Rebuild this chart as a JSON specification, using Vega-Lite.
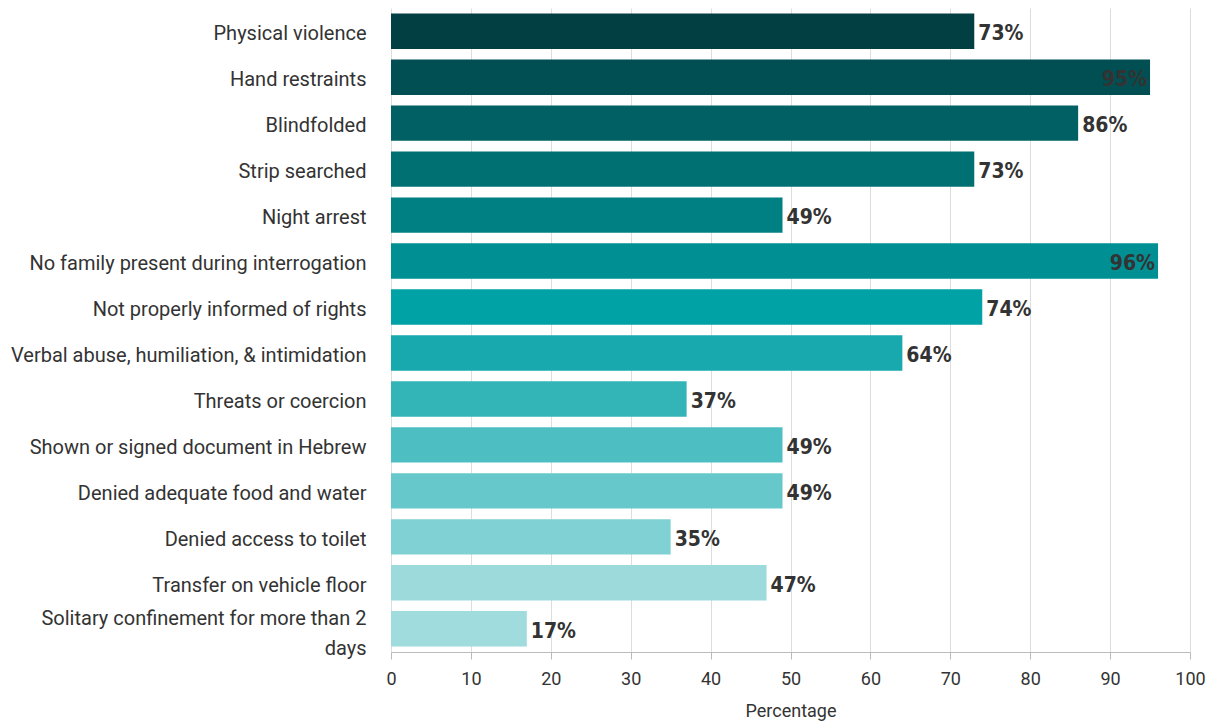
{
  "$schema": "https://vega.github.io/schema/vega-lite/v6.json",
  "autosize": {"type": "none"},
  "width": 799,
  "height": 644,
  "padding": {"left": 391, "top": 8, "right": 20, "bottom": 69},
  "background": "white",
  "view": {"stroke": null},
  "data": {
    "values": [
      {"item": "Physical violence", "value": 73},
      {"item": "Hand restraints", "value": 95},
      {"item": "Blindfolded", "value": 86},
      {"item": "Strip searched", "value": 73},
      {"item": "Night arrest", "value": 49},
      {"item": "No family present during interrogation", "value": 96},
      {"item": "Not properly informed of rights", "value": 74},
      {"item": "Verbal abuse, humiliation, & intimidation", "value": 64},
      {"item": "Threats or coercion", "value": 37},
      {"item": "Shown or signed document in Hebrew", "value": 49},
      {"item": "Denied adequate food and water", "value": 49},
      {"item": "Denied access to toilet", "value": 35},
      {"item": "Transfer on vehicle floor", "value": 47},
      {"item": "Solitary confinement for more than 2 days", "value": 17}
    ]
  },
  "transform": [{"calculate": "datum.value + '%'", "as": "label"}],
  "encoding": {
    "y": {
      "field": "item",
      "type": "nominal",
      "sort": null,
      "scale": {"paddingInner": 0.23, "paddingOuter": 0.12},
      "axis": {
        "title": null,
        "labelFont": "Roboto",
        "labelFontSize": 20,
        "labelColor": "#333333",
        "labelLimit": 420,
        "labelPadding": 25,
        "labelLineHeight": 30,
        "labelOffset": {"condition": {"test": "datum.label == 'Solitary confinement for more than 2 days'", "value": -10}, "value": 3},
        "ticks": false,
        "domain": false,
        "labelExpr": "datum.label == 'Solitary confinement for more than 2 days' ? ['Solitary confinement for more than 2', 'days'] : datum.label"
      }
    },
    "x": {
      "field": "value",
      "type": "quantitative",
      "scale": {"domain": [0, 100], "nice": false},
      "axis": {
        "title": "Percentage",
        "titleFont": "Roboto",
        "titleFontSize": 18,
        "titleFontWeight": "normal",
        "titleColor": "#333333",
        "titlePadding": 14,
        "labelFont": "Roboto",
        "labelFontSize": 18,
        "labelColor": "#333333",
        "labelFlush": false,
        "values": [0, 10, 20, 30, 40, 50, 60, 70, 80, 90, 100],
        "grid": true,
        "gridColor": "#dddddd",
        "domainColor": "#bbbbbb",
        "tickColor": "#bbbbbb",
        "tickSize": 7,
        "labelPadding": 11
      }
    }
  },
  "layer": [
    {
      "mark": {"type": "bar"},
      "encoding": {
        "color": {
          "field": "item",
          "type": "nominal",
          "legend": null,
          "scale": {
            "domain": ["Physical violence", "Hand restraints", "Blindfolded", "Strip searched", "Night arrest", "No family present during interrogation", "Not properly informed of rights", "Verbal abuse, humiliation, & intimidation", "Threats or coercion", "Shown or signed document in Hebrew", "Denied adequate food and water", "Denied access to toilet", "Transfer on vehicle floor", "Solitary confinement for more than 2 days"],
            "range": ["#023f42", "#014f52", "#006063", "#007073", "#008083", "#008f93", "#00a2a6", "#17a9ad", "#33b5b8", "#4dbfc2", "#66c8cb", "#80d1d3", "#9cdadc", "#a0dcde"]
          }
        }
      }
    },
    {
      "transform": [{"filter": "datum.value < 90"}],
      "mark": {"type": "text", "align": "left", "dx": 4, "dy": 3, "font": "DejaVu Sans Condensed", "fontSize": 21, "fontWeight": "bold", "color": "#333333", "baseline": "middle"},
      "encoding": {"text": {"field": "label"}}
    },
    {
      "transform": [{"filter": "datum.value >= 90"}],
      "mark": {"type": "text", "align": "right", "dx": -3, "dy": 3, "font": "DejaVu Sans Condensed", "fontSize": 21, "fontWeight": "bold", "color": "#333333", "baseline": "middle"},
      "encoding": {"text": {"field": "label"}}
    }
  ]
}
